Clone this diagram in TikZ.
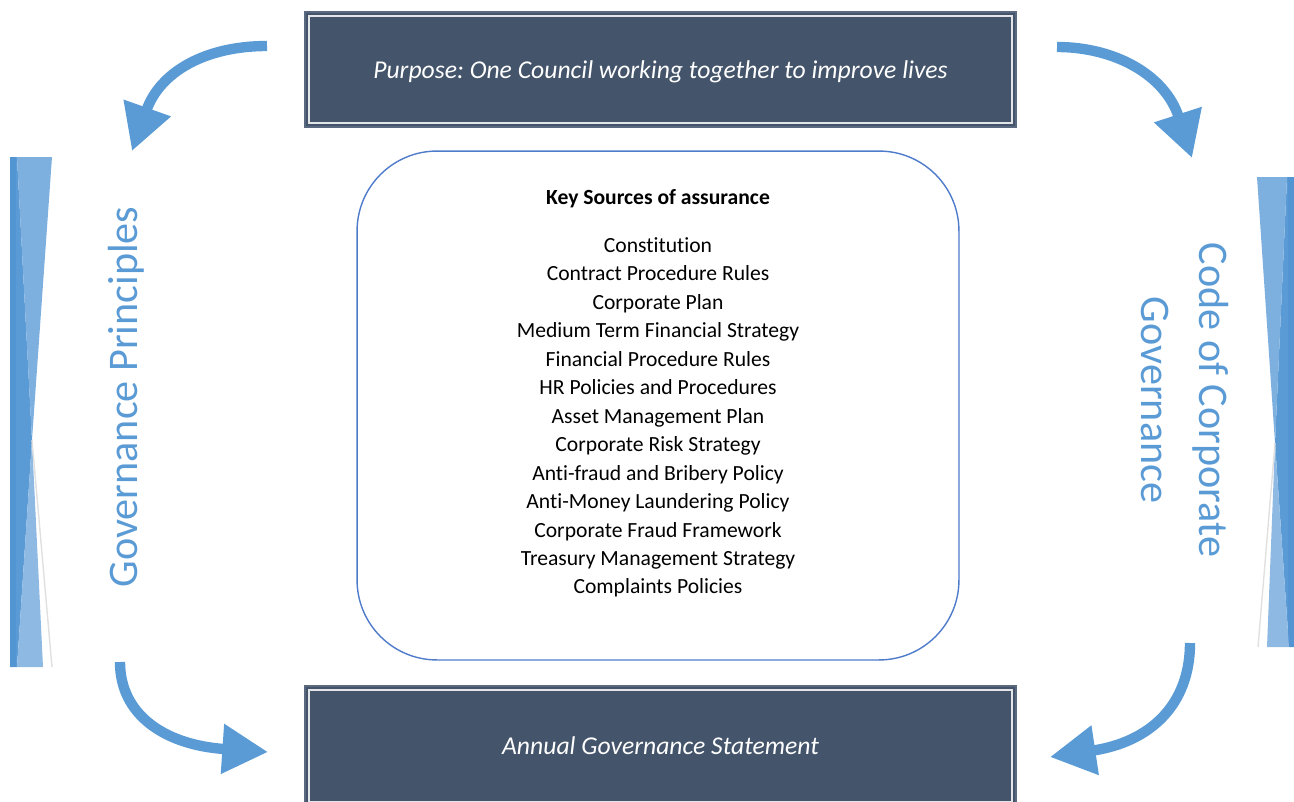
\documentclass[tikz,border=0pt]{standalone}
\usepackage{fontspec}
\setmainfont{Carlito}[Ligatures=NoCommon]
\frenchspacing
\usetikzlibrary{arrows.meta}
\definecolor{slate}{HTML}{44546A}
\definecolor{slateedge}{HTML}{5A6980}
\definecolor{azure}{HTML}{5B9BD5}
\definecolor{azuredeep}{HTML}{5394D2}
\definecolor{azurelight}{HTML}{7DAFDF}
\definecolor{azurepale}{HTML}{8EB9E3}
\definecolor{framecol}{HTML}{4F7BCB}

\begin{document}
\begin{tikzpicture}[x=0.02cm,y=-0.02cm]
\tikzstyle{every node}+=[inner sep=0pt]
\tikzstyle{titlebox}=[fill=slate, draw=slateedge, line width=1pt, minimum width=14.22cm, minimum height=2.3cm, text=white, font=\fontsize{14.6}{17}\selectfont\itshape]
\tikzstyle{innerframe}=[draw=white!85!slate, line width=0.9pt]
\tikzstyle{sourcebox}=[draw=framecol, line width=0.8pt, rounded corners=1.6cm, minimum width=12.04cm, minimum height=10.18cm]
\tikzstyle{listtext}=[align=center, font=\fontsize{12.3}{16.2}\selectfont]
\tikzstyle{sidetext}=[text=azure, align=center, font=\fontsize{24}{33}\selectfont]
\tikzstyle{cyclearrow}=[draw=azure, line width=5.9pt, -{Triangle[length=26pt,width=27pt]}]
\useasboundingbox (0,0) rectangle (1294,801);
\clip (0,0) rectangle (1294,801);
\fill [azure] (10,157) -- (17,157) -- (32,440) -- (17,667) -- (10,667) -- cycle;
\fill [azuredeep] (10,157) rectangle (16,667);
\fill [azurelight] (17,157) -- (52,157) -- (32,440) -- cycle;
\fill [azurepale] (17,667) -- (43,667) -- (32,440) -- cycle;
\draw [black!12, line width=0.8pt] (32,440) -- (52,667);
\fill [azure] (1287,177) -- (1294,177) -- (1294,647) -- (1289,647) -- (1275,443) -- cycle;
\fill [azuredeep] (1288,177) rectangle (1294,647);
\fill [azurelight] (1257,177) -- (1287,177) -- (1275,443) -- cycle;
\fill [azurepale] (1267,647) -- (1289,647) -- (1275,443) -- cycle;
\draw [black!12, line width=0.8pt] (1275,443) -- (1258,647);
\node [sidetext, rotate=90] (principles) at (126,397) {Governance Principles};
\node [sidetext, rotate=-90] (code) at (1185,400) {Code of Corporate\\Governance};
\node [titlebox, text depth=0pt] (purpose) at (660.5,69.5) {Purpose: One Council working together to improve lives};
\draw [innerframe] ([shift={(5,5)}]purpose.north west) rectangle ([shift={(-5,-5)}]purpose.south east);
\node [titlebox, minimum height=2.4cm] (statement) at (660.5,746) {Annual Governance Statement};
\draw [innerframe] ([shift={(5,5)}]statement.north west) rectangle ([shift={(-5,-5)}]statement.south east);
\node [sourcebox] (sources) at (658,405.5) {};
\node [listtext, font=\fontsize{12.3}{16.2}\selectfont\bfseries] (keytitle) at (658,198.5) {Key Sources of assurance};
\node [listtext] (keylist) at (658,417.5) {Constitution\\Contract Procedure Rules\\Corporate Plan\\Medium Term Financial Strategy\\Financial Procedure Rules\\HR Policies and Procedures\\Asset Management Plan\\Corporate Risk Strategy\\Anti-fraud and Bribery Policy\\Anti-Money Laundering Policy\\Corporate Fraud Framework\\Treasury Management Strategy\\Complaints Policies};
\coordinate (tlfrom) at (267,46);
\coordinate (tlto) at (132,151);
\coordinate (trfrom) at (1057,47);
\coordinate (trto) at (1192,158);
\coordinate (blfrom) at (120,662);
\coordinate (blto) at (268,752);
\coordinate (brfrom) at (1190,643);
\coordinate (brto) at (1050,757);
\draw [cyclearrow] (tlfrom) .. controls (205,46) and (160,72) .. (tlto);
\draw [cyclearrow] (trfrom) .. controls (1115,47) and (1165,75) .. (trto);
\draw [cyclearrow] (blfrom) .. controls (120,715) and (165,745) .. (blto);
\draw [cyclearrow] (brfrom) .. controls (1190,705) and (1150,742) .. (brto);
\end{tikzpicture}
\end{document}
